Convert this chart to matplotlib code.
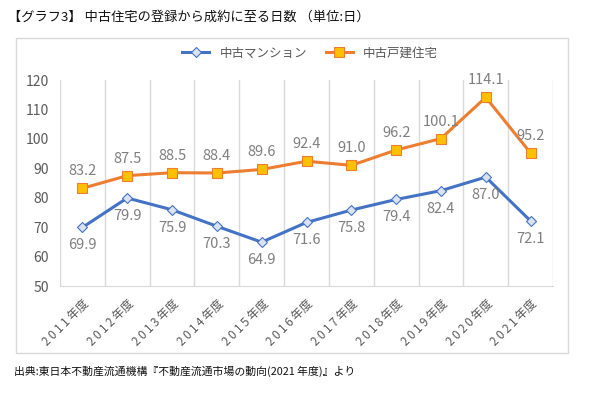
import matplotlib
matplotlib.use("Agg")
import matplotlib.pyplot as plt
from matplotlib.patches import Rectangle
import numpy as np

plt.rcParams['font.family'] = ['Noto Sans CJK JP', 'DejaVu Sans']

# data
years = ["2011年度", "2012年度", "2013年度", "2014年度", "2015年度", "2016年度",
         "2017年度", "2018年度", "2019年度", "2020年度", "2021年度"]
mansion = [69.9, 79.9, 75.9, 70.3, 64.9, 71.6, 75.8, 79.4, 82.4, 87.0, 72.1]
kodate = [83.2, 87.5, 88.5, 88.4, 89.6, 92.4, 91.0, 96.2, 100.1, 114.1, 95.2]
yticks = [50, 60, 70, 80, 90, 100, 110, 120]

W, H = 600, 398
fig = plt.figure(figsize=(W / 100, H / 100), dpi=100)

# outer chart frame
fig.patches.append(Rectangle((16 / W, 1 - 353 / H), (568 - 16) / W, (353 - 38) / H,
                             transform=fig.transFigure, fill=False,
                             edgecolor="#d9d9d9", linewidth=1))

ax = fig.add_axes([60 / W, 1 - 286 / H, (553 - 60) / W, (286 - 80) / H])
x = np.arange(len(years))

ax.plot(x, mansion, color="#4472c4", linewidth=2.2, marker="D", markersize=5.5,
        markerfacecolor="#dae3f3", markeredgecolor="#4472c4", markeredgewidth=0.8,
        label="中古マンション", zorder=3)
ax.plot(x, kodate, color="#ed7d31", linewidth=2.2, marker="s", markersize=7.5,
        markerfacecolor="#ffc000", markeredgecolor="#ed7d31", markeredgewidth=0.8,
        label="中古戸建住宅", zorder=3)

for xi, v in zip(x, mansion):
    ax.annotate(f"{v:.1f}", (xi, v), xytext=(0, -18), textcoords="offset pixels",
                ha="center", va="center", fontsize=10.5, color="#7f7f7f")
for xi, v in zip(x, kodate):
    ax.annotate(f"{v:.1f}", (xi, v), xytext=(0, 17), textcoords="offset pixels",
                ha="center", va="center", fontsize=10.5, color="#7f7f7f")

ax.set_xlim(-0.5, len(years) - 0.5)
ax.set_ylim(50, 120)
ax.set_yticks(yticks)
ax.set_xticks(x)
# slightly spaced-out digits like the original
ax.set_xticklabels(["\u2009".join(y[:4]) + "\u2009" + y[4:] for y in years],
                   family=["Noto Sans CJK JP", "DejaVu Sans"], rotation=45,
                   ha="right", rotation_mode="anchor", fontsize=8.5, color="#595959")
ax.set_xticks(np.arange(-0.5, len(years)), minor=True)
ax.grid(True, which="minor", axis="x", color="#d9d9d9", linewidth=1)
ax.tick_params(axis="y", length=0, labelsize=10, labelcolor="#595959", pad=8)
ax.tick_params(axis="x", which="both", length=0, pad=8)
for s in ["top", "right", "left"]:
    ax.spines[s].set_visible(False)
ax.spines["bottom"].set_color("#d9d9d9")

ax.legend(loc="center", bbox_to_anchor=(310 / W, 1 - 53 / H),
          bbox_transform=fig.transFigure, ncol=2, frameon=False,
          fontsize=9, labelcolor="#595959", handlelength=2.2, columnspacing=1.5)

fig.text(8 / W, 1 - 17 / H, "【グラフ3】 中古住宅の登録から成約に至る日数 （単位:日）",
         fontsize=9.5, ha="left", va="center", color="#111111")
fig.text(14 / W, 1 - 371 / H, "出典:東日本不動産流通機構『不動産流通市場の動向(2021 年度)』より",
         fontsize=7.8, ha="left", va="center", color="#111111")

fig.savefig("out.png", dpi=100)
